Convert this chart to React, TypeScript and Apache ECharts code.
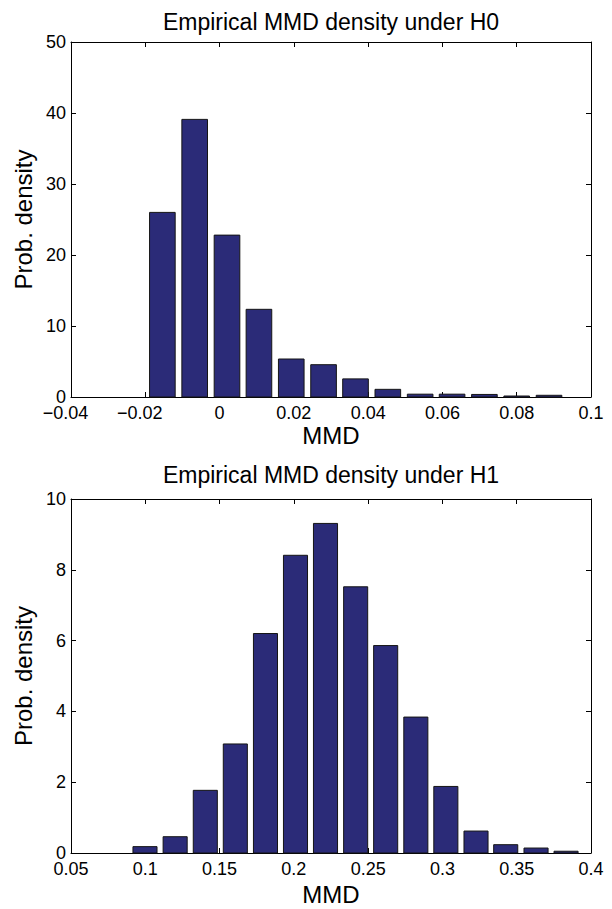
import React, { useEffect, useRef } from "react";
import * as echarts from "echarts";

// ---- data ----
const H0_CENTERS = [-0.0154, -0.0067, 0.002, 0.0106, 0.0193, 0.028, 0.0366, 0.0453, 0.054, 0.0626, 0.0713, 0.08, 0.0887];
const H0_DENSITY = [26.0, 39.1, 22.8, 12.35, 5.35, 4.55, 2.55, 1.08, 0.4, 0.4, 0.36, 0.14, 0.24];
const H1_CENTERS = [0.0998, 0.1201, 0.1404, 0.1606, 0.1809, 0.2011, 0.2213, 0.2416, 0.2618, 0.2821, 0.3023, 0.3226, 0.3426, 0.363, 0.3832];
const H1_DENSITY = [0.18, 0.46, 1.77, 3.08, 6.2, 8.41, 9.31, 7.52, 5.86, 3.84, 1.88, 0.62, 0.235, 0.14, 0.05];

const H0_X_TICKS = { min: -0.04, max: 0.1, interval: 0.02 };
const H0_Y_TICKS = { min: 0, max: 50, interval: 10 };
const H1_X_TICKS = { min: 0.05, max: 0.4, interval: 0.05 };
const H1_Y_TICKS = { min: 0, max: 10, interval: 2 };

const TITLES = ["Empirical MMD density under H0", "Empirical MMD density under H1"];
const X_NAME = "MMD";
const Y_NAME = "Prob. density";

// ---- styles ----
const FONT = "'Liberation Sans', Arial, Helvetica, sans-serif";
const BAR_FILL = "#2b2b78";
const BAR_EDGE = "#151515";
const H0_BAR_W = 0.0069;
const H1_BAR_W = 0.0162;
const TICK_FS = 18;

const fmt = (v: number) => {
  const s = String(Number(v.toFixed(4)));
  if (v < 0) return "{neg|\u2212" + s.slice(1) + "}";
  return s;
};

function axesFor(grid: number, xt: any, yt: any, xNameGap: number) {
  const line = { show: true, onZero: false, lineStyle: { color: "#000", width: 1 } };
  const tick = { show: true, inside: true, length: 5, lineStyle: { color: "#000", width: 1 } };
  const labelBase = { color: "#000", fontSize: TICK_FS, fontFamily: FONT };
  const xAxes = [
    {
      type: "value", gridIndex: grid, position: "bottom", ...xt,
      axisLine: line, axisTick: tick, splitLine: { show: false },
      axisLabel: {
        ...labelBase, margin: 7, formatter: fmt,
        rich: { neg: { ...labelBase, padding: [0, 11, 0, 0] } },
      },
      name: X_NAME, nameLocation: "middle", nameGap: xNameGap,
      nameTextStyle: { color: "#000", fontSize: 24, fontFamily: FONT },
    },
    {
      type: "value", gridIndex: grid, position: "top", ...xt,
      axisLine: line, axisTick: tick, splitLine: { show: false },
      axisLabel: { show: false },
    },
  ];
  const yAxes = [
    {
      type: "value", gridIndex: grid, position: "left", ...yt,
      axisLine: line, axisTick: tick, splitLine: { show: false },
      axisLabel: { ...labelBase, margin: 5 },
      name: Y_NAME, nameLocation: "middle", nameGap: 36, nameRotate: 90,
      nameTextStyle: { color: "#000", fontSize: 24, fontFamily: FONT },
    },
    {
      type: "value", gridIndex: grid, position: "right", ...yt,
      axisLine: line, axisTick: tick, splitLine: { show: false },
      axisLabel: { show: false },
    },
  ];
  return { xAxes, yAxes };
}

function barSeries(axisIndex: number, centers: number[], vals: number[], w: number) {
  return {
    type: "custom",
    xAxisIndex: axisIndex,
    yAxisIndex: axisIndex,
    data: centers.map((c, i) => [c, vals[i]]),
    renderItem: (_p: any, api: any) => {
      const x = api.value(0);
      const y = api.value(1);
      const a = api.coord([x - w / 2, y]);
      const b = api.coord([x + w / 2, 0]);
      return {
        type: "rect",
        shape: { x: a[0], y: a[1], width: b[0] - a[0], height: b[1] - a[1] },
        style: { fill: BAR_FILL, stroke: BAR_EDGE, lineWidth: 1 },
      };
    },
  };
}

export default function App() {
  const ref = useRef<HTMLDivElement>(null);
  useEffect(() => {
    if (!ref.current) return;
    const chart = echarts.init(ref.current, null, { renderer: "svg" });
    const top = axesFor(0, H0_X_TICKS, H0_Y_TICKS, 26);
    const bot = axesFor(1, H1_X_TICKS, H1_Y_TICKS, 29);
    chart.setOption({
      animation: false,
      backgroundColor: "#fff",
      grid: [
        { left: 71, top: 42, width: 520, height: 355 },
        { left: 71, top: 499, width: 520, height: 354 },
      ],
      xAxis: [...top.xAxes, ...bot.xAxes],
      yAxis: [...top.yAxes, ...bot.yAxes],
      graphic: [
        {
          type: "text", x: 331, y: 21.5,
          style: { text: TITLES[0], fontSize: 23, fontFamily: FONT, fill: "#000", align: "center", verticalAlign: "middle" },
        },
        {
          type: "text", x: 331, y: 475,
          style: { text: TITLES[1], fontSize: 23, fontFamily: FONT, fill: "#000", align: "center", verticalAlign: "middle" },
        },
      ],
      series: [
        barSeries(0, H0_CENTERS, H0_DENSITY, H0_BAR_W),
        barSeries(2, H1_CENTERS, H1_DENSITY, H1_BAR_W),
      ],
    });
    return () => chart.dispose();
  }, []);
  return <div ref={ref} style={{ position: "absolute", left: 0, top: 0, width: 612, height: 909 }} />;
}
